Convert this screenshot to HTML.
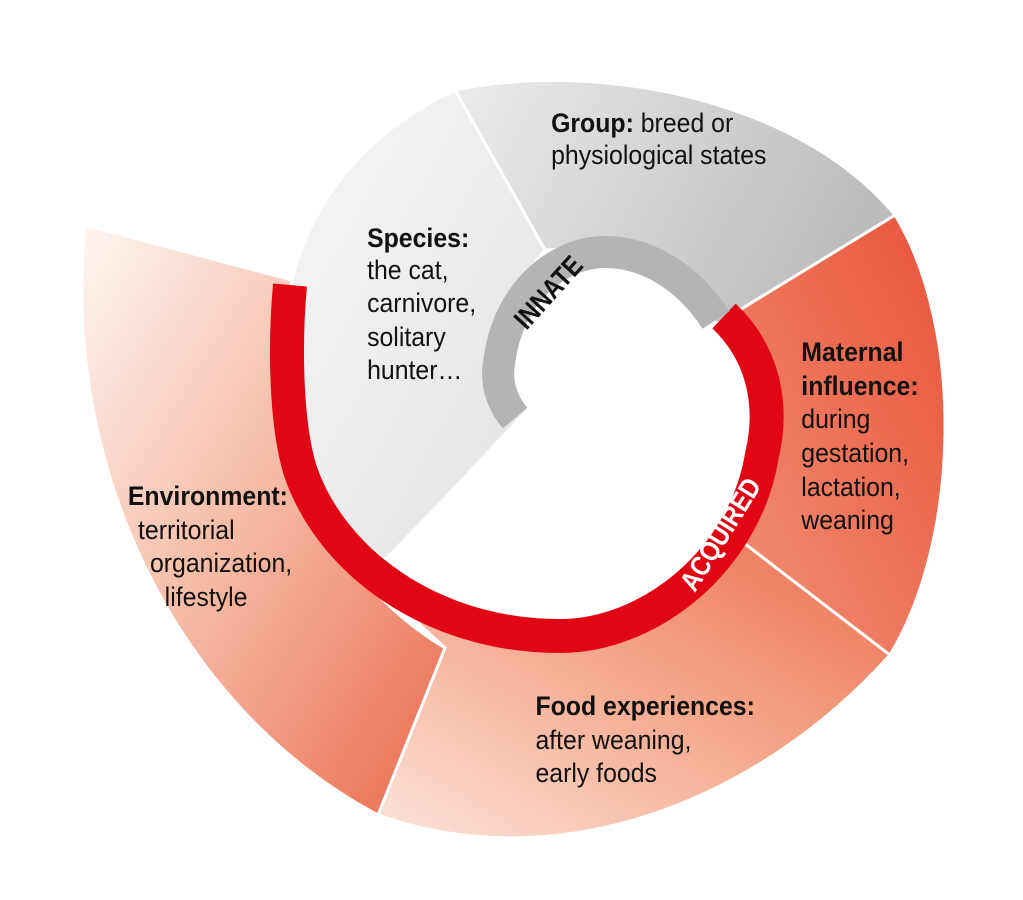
<!DOCTYPE html>
<html><head><meta charset="utf-8"><style>
html,body{margin:0;padding:0;background:#fff;}
svg{display:block;}
text{font-family:"Liberation Sans Narrow","Liberation Sans",sans-serif;font-size:27px;fill:#111;}
.b{font-weight:bold;}
</style></head><body>
<svg width="1023" height="900" viewBox="0 0 1023 900" xmlns="http://www.w3.org/2000/svg">
<defs>
<linearGradient id="gEnv" x1="0" y1="0" x2="1" y2="1"><stop offset="0" stop-color="#fef6f2"/><stop offset="0.5" stop-color="#f5b7a1"/><stop offset="1" stop-color="#ea6a4c"/></linearGradient>
<linearGradient id="gFood" x1="0" y1="1" x2="1" y2="0"><stop offset="0" stop-color="#fce4da"/><stop offset="0.55" stop-color="#f4a487"/><stop offset="1" stop-color="#ec6f50"/></linearGradient>
<linearGradient id="gMat" x1="1" y1="0" x2="0" y2="1"><stop offset="0" stop-color="#e8533a"/><stop offset="1" stop-color="#f29479"/></linearGradient>
<linearGradient id="gGrp" x1="0" y1="0" x2="1" y2="0.3"><stop offset="0" stop-color="#ececec"/><stop offset="1" stop-color="#bcbcbc"/></linearGradient>
<linearGradient id="gSp" x1="0" y1="0" x2="1" y2="1"><stop offset="0" stop-color="#f7f7f7"/><stop offset="1" stop-color="#e2e2e2"/></linearGradient>
</defs>
<!-- Environment -->
<path d="M85,225 L310,285 L300,400 C300,500 350,590 445,648 L378,815 C180,710 60,470 85,225 Z" fill="url(#gEnv)" stroke="#fff" stroke-width="3"/>
<!-- Food -->
<path d="M445,648 L378,815 C560,880 760,800 890,655 L740,540 L700,580 C640,620 560,625 400,590 L420,625 Z" fill="url(#gFood)" stroke="#fff" stroke-width="3"/>
<!-- Maternal -->
<path d="M890,655 C960,540 965,330 895,215 L715,325 C760,370 770,460 740,540 Z" fill="url(#gMat)" stroke="#fff" stroke-width="3"/>
<!-- Group -->
<path d="M455,90 C600,60 800,100 895,215 L715,325 C680,270 640,245 545,250 Z" fill="url(#gGrp)" stroke="#fff" stroke-width="3"/>
<!-- Species -->
<path d="M455,90 L545,250 C500,300 495,380 530,410 L385,560 C330,520 290,460 288,400 L290,290 C310,190 380,125 455,90 Z" fill="url(#gSp)" stroke="#fff" stroke-width="3"/>
<!-- hole -->
<path d="M530,405 C515,385 510,370 512,357 C520,290 565,262 610,262 C660,262 700,290 715,320 C760,360 770,420 760,450 C745,560 660,630 570,630 C500,630 440,605 385,560 Z" fill="#fff"/>
<!-- red band -->
<path d="M724,316 C760,350 775,400 762,455 C745,560 650,636 560,636 C430,636 330,560 300,470 C285,420 285,340 290,285" fill="none" stroke="#e10614" stroke-width="34"/>
<!-- grey band -->
<path d="M515,418 C500,400 495,380 500,357 C510,290 560,252 605,252 C650,252 690,280 716,320" fill="none" stroke="#b4b4b4" stroke-width="32"/>
<text class="b" transform="translate(548,292) rotate(-48) scale(0.85,1)" text-anchor="middle" style="font-size:28px" dy="10">INNATE</text>
<text class="b" transform="translate(720,534) rotate(-58) scale(0.85,1)" text-anchor="middle" style="font-size:28px;fill:#fff" dy="10">ACQUIRED</text>
<g transform="scale(0.92,1)">
<text x="599" y="132"><tspan class="b">Group:</tspan> breed or</text>
<text x="599" y="164">physiological states</text>
<text x="399" y="247" class="b">Species:</text>
<text x="399" y="279">the cat,</text>
<text x="399" y="312">carnivore,</text>
<text x="399" y="346">solitary</text>
<text x="399" y="379">hunter…</text>
<text x="871" y="361" class="b">Maternal</text>
<text x="871" y="395" class="b">influence:</text>
<text x="871" y="428">during</text>
<text x="871" y="462">gestation,</text>
<text x="871" y="496">lactation,</text>
<text x="871" y="529">weaning</text>
<text x="139" y="505" class="b">Environment:</text>
<text x="150" y="539">territorial</text>
<text x="163" y="572">organization,</text>
<text x="179" y="606">lifestyle</text>
<text x="582" y="715" class="b">Food experiences:</text>
<text x="582" y="749">after weaning,</text>
<text x="582" y="782">early foods</text>
</g>
</svg>
</body></html>
